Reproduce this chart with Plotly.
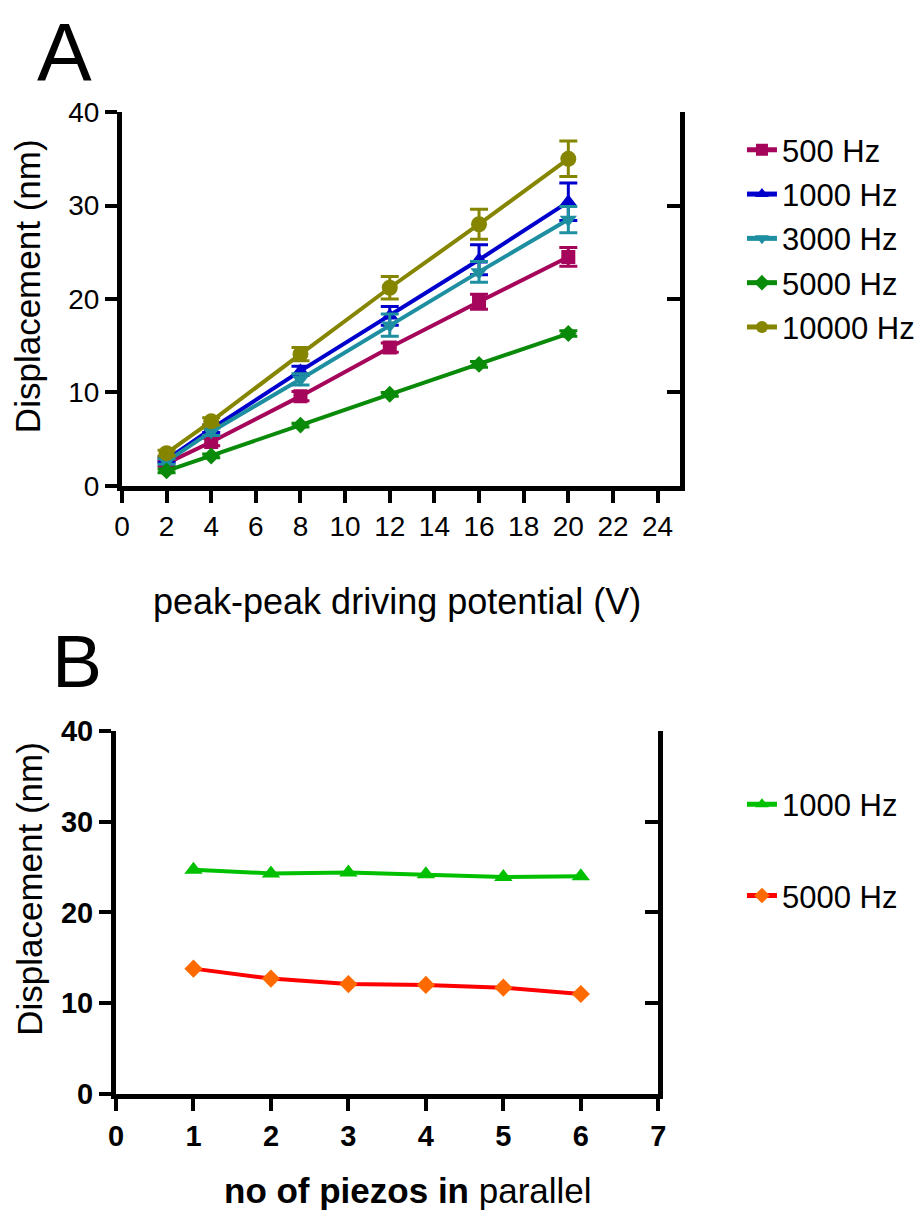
import plotly.graph_objects as go

# ---------- Panel A data ----------
voltage = [2, 4, 8, 12, 16, 20]
hz500 = [2.4, 4.7, 9.6, 14.8, 19.7, 24.5]
hz1000 = [2.8, 6.1, 12.3, 18.2, 24.2, 30.4]
hz3000 = [2.6, 5.8, 11.4, 17.2, 22.9, 28.5]
hz5000 = [1.6, 3.2, 6.5, 9.8, 13.0, 16.3]
hz10000 = [3.5, 6.9, 14.1, 21.2, 28.0, 35.0]
err500 = [0.3, 0.4, 0.5, 0.5, 0.8, 1.0]
err1000 = [0.3, 0.4, 0.5, 1.0, 1.6, 2.0]
err3000 = [0.3, 0.4, 0.6, 1.2, 1.1, 1.4]
err5000 = [0.2, 0.2, 0.2, 0.2, 0.3, 0.3]
err10000 = [0.3, 0.4, 0.7, 1.2, 1.6, 1.9]
names_a = ["500 Hz", "1000 Hz", "3000 Hz", "5000 Hz", "10000 Hz"]
xticks_a = [0, 2, 4, 6, 8, 10, 12, 14, 16, 18, 20, 22, 24]
yticks = [0, 10, 20, 30, 40]

# ---------- Panel B data ----------
piezos = [1, 2, 3, 4, 5, 6]
b1000 = [24.7, 24.3, 24.4, 24.2, 23.9, 24.0]
b5000 = [13.8, 12.7, 12.1, 12.0, 11.7, 11.0]
names_b = ["1000 Hz", "5000 Hz"]
xticks_b = [0, 1, 2, 3, 4, 5, 6, 7]

FONT = "Liberation Sans"
W, H = 920, 1220


def px(xp):
    return xp / W


def py(yp):
    return 1 - yp / H


fig = go.Figure()

series_a = [
    (hz500, err500, "#A5055A", "square", 14),
    (hz1000, err1000, "#0000CC", "triangle-up", 15),
    (hz3000, err3000, "#1E8FA0", "triangle-down", 15),
    (hz5000, err5000, "#098A09", "diamond", 13),
    (hz10000, err10000, "#858500", "circle", 16),
]
for i, (vals, errs, col, sym, ms) in enumerate(series_a):
    fig.add_trace(go.Scatter(
        x=voltage, y=vals, name=names_a[i], mode="lines+markers",
        line=dict(color=col, width=4),
        marker=dict(color=col, symbol=sym, size=ms),
        error_y=dict(type="data", array=errs, color=col, thickness=3, width=9, visible=True),
        xaxis="x", yaxis="y", legend="legend", legendgroup=f"a{i}",
    ))

fig.add_trace(go.Scatter(
    x=piezos, y=b1000, name=names_b[0], mode="lines+markers",
    line=dict(color="#00C000", width=4),
    marker=dict(color="#00C000", symbol="triangle-up", size=16),
    xaxis="x2", yaxis="y2", legend="legend2", legendgroup="b0",
))
fig.add_trace(go.Scatter(
    x=piezos, y=b5000, name=names_b[1], mode="lines+markers",
    line=dict(color="#FF0000", width=4),
    marker=dict(color="#FF6A00", symbol="diamond", size=14),
    xaxis="x2", yaxis="y2", legend="legend2", legendgroup="b1",
))

# dummy traces so the right-hand axes render
fig.add_trace(go.Scatter(x=[None], y=[None], xaxis="x", yaxis="y3", showlegend=False, hoverinfo="skip"))
fig.add_trace(go.Scatter(x=[None], y=[None], xaxis="x2", yaxis="y4", showlegend=False, hoverinfo="skip"))

ax_common = dict(showgrid=False, zeroline=False, showline=True, linecolor="black",
                 linewidth=5, ticks="outside", ticklen=12, tickwidth=4, tickcolor="black")

tickA = dict(family=FONT, size=28, color="black")
tickB = dict(family=FONT, size=29, color="black", weight="bold")

right_axis = dict(range=[0, 40], tickvals=yticks, showticklabels=False, showgrid=False,
                  zeroline=False, showline=True, linecolor="black", linewidth=5,
                  ticks="inside", ticklen=13, tickwidth=4, tickcolor="black", side="right")

fig.update_layout(
    width=W, height=H, margin=dict(l=0, r=0, t=0, b=0),
    paper_bgcolor="white", plot_bgcolor="white",
    showlegend=True,
    xaxis=dict(domain=[px(117.5), px(693)], range=[0, 25], anchor="y", tickvals=xticks_a,
               tickfont=tickA, **ax_common),
    yaxis=dict(domain=[py(482.5), py(98.7)], range=[0, 40], anchor="x", tickvals=yticks,
               tickfont=tickA, **ax_common),
    yaxis3=dict(overlaying="y", anchor="x", **right_axis),
    xaxis2=dict(domain=[px(111.4), px(670.7)], range=[0, 7], anchor="y2", tickvals=xticks_b,
                tickfont=tickB, **ax_common),
    yaxis2=dict(domain=[py(1106.8), py(734.3)], range=[0, 40], anchor="x2", tickvals=yticks,
                tickfont=tickB, **ax_common),
    yaxis4=dict(overlaying="y2", anchor="x2", **right_axis),
    legend=dict(x=px(757), y=py(110), xanchor="left", yanchor="top",
                font=dict(family=FONT, size=31, color="black"),
                bgcolor="rgba(0,0,0,0)", traceorder="grouped", tracegroupgap=1,
                itemsizing="constant"),
    legend2=dict(x=px(757), y=py(782), xanchor="left", yanchor="top",
                 font=dict(family=FONT, size=31, color="black"),
                 bgcolor="rgba(0,0,0,0)", traceorder="grouped", tracegroupgap=48,
                 itemsizing="constant"),
)

annotations = [
    dict(text="A", x=px(58), y=py(36), font=dict(family=FONT, size=82, color="black")),
    dict(text="B", x=px(71.5), y=py(662), font=dict(family=FONT, size=75, color="black")),
    dict(text="Displacement (nm)", x=px(20), y=py(277), textangle=-90,
         font=dict(family=FONT, size=35, color="black")),
    dict(text="Displacement (nm)", x=px(22), y=py(896), textangle=-90,
         font=dict(family=FONT, size=35, color="black")),
    dict(text="peak-peak driving potential (V)", x=px(401), y=py(601),
         font=dict(family=FONT, size=36, color="black")),
    dict(text="<b>no of piezos in</b> parallel", x=px(413), y=py(1206),
         font=dict(family=FONT, size=35, color="black")),
]
for a in annotations:
    a.update(xref="paper", yref="paper", showarrow=False, xanchor="center", yanchor="middle")
fig.update_layout(annotations=annotations)

fig.write_html("out.html")
